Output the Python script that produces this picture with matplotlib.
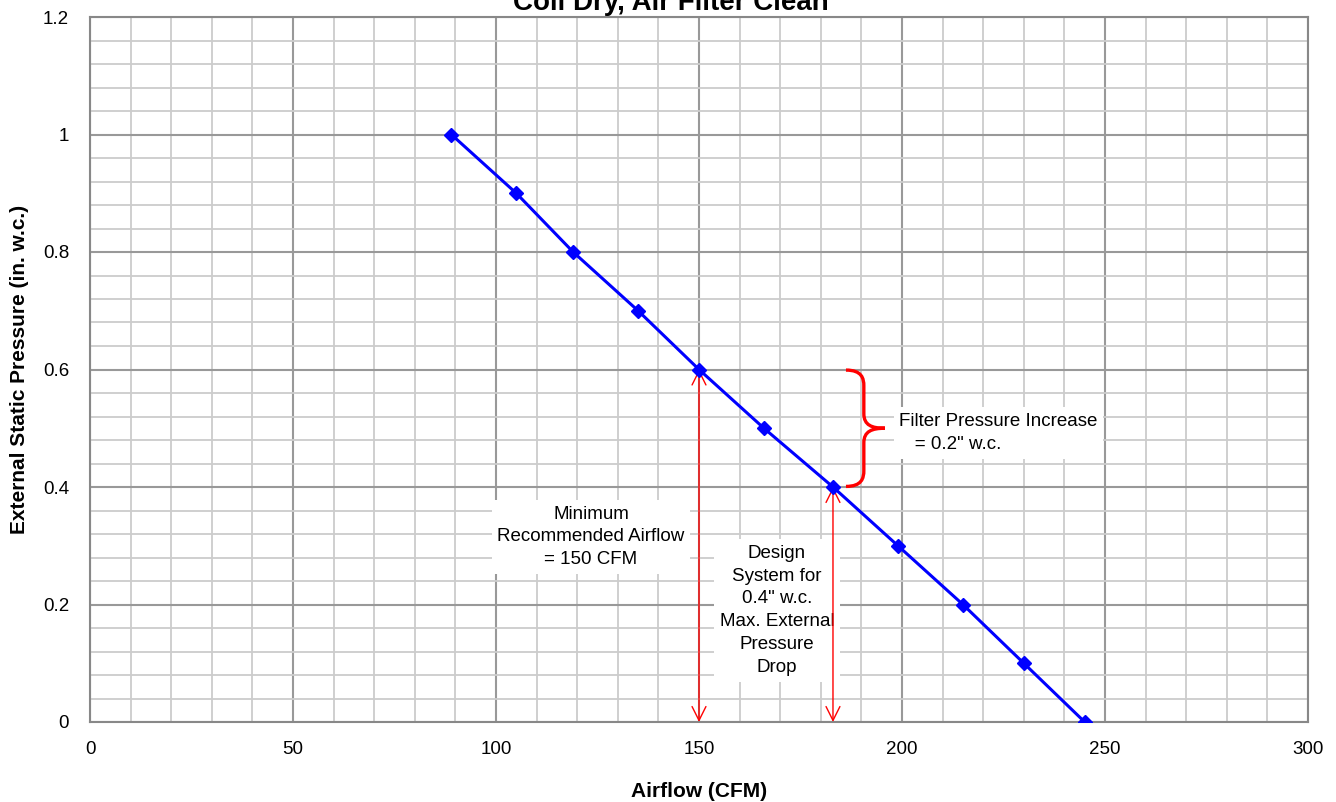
import numpy as np
import matplotlib.pyplot as plt
from matplotlib.path import Path
from matplotlib.patches import PathPatch

plt.rcParams['font.family'] = ['Liberation Sans', 'DejaVu Sans']

# fan curve
airflow = [89, 105, 119, 135, 150, 166, 183, 199, 215, 230, 245]
pressure = [1.0, 0.9, 0.8, 0.7, 0.6, 0.5, 0.4, 0.3, 0.2, 0.1, 0.0]

x_ticks = [0, 50, 100, 150, 200, 250, 300]
y_ticks = [0, 0.2, 0.4, 0.6, 0.8, 1.0, 1.2]
y_labels = ['0', '0.2', '0.4', '0.6', '0.8', '1', '1.2']

min_airflow = 150
design_airflow = 183
clean_pressure = 0.4
dirty_pressure = 0.6

fig = plt.figure(figsize=(13.36, 8.02), dpi=100)
ax = fig.add_axes([90 / 1336, 1 - 722 / 802, 1218 / 1336, 705 / 802])

ax.set_xlim(0, 300)
ax.set_ylim(0, 1.2)
ax.set_xticks(x_ticks)
ax.set_yticks(y_ticks)
ax.set_yticklabels(y_labels)
ax.set_xticks(np.arange(0, 301, 10), minor=True)
ax.set_yticks(np.arange(0, 1.21, 0.04), minor=True)
ax.grid(which='minor', color='#cccccc', linewidth=1.3, zorder=0)
ax.grid(which='major', color='#999999', linewidth=1.5, zorder=0)
ax.tick_params(which='both', length=0, labelsize=13.5)
ax.tick_params(axis='x', pad=14)
ax.tick_params(axis='y', pad=15)
for s in ax.spines.values():
    s.set_color('#888888')
    s.set_linewidth(1.5)
ax.set_axisbelow(True)

ax.set_xlabel('Airflow (CFM)', fontsize=15, fontweight='bold', va='top')
ax.xaxis.set_label_coords(0.5, -(782 - 722) / 705)
ax.set_ylabel('External Static Pressure (in. w.c.)', fontsize=15, fontweight='bold')
ax.yaxis.set_label_coords((29 - 90) / 1218, 0.5)
fig.text(671 / 1336, 1 - 10 / 802, 'Coil Dry, Air Filter Clean', ha='center', va='baseline',
         fontsize=20, fontweight='bold')

ax.plot(airflow, pressure, color='#0000ff', linewidth=2.2, marker='D', markersize=7, zorder=5)

# red double arrows
arr = dict(arrowstyle='<->,head_length=1.0,head_width=0.5', color='red', lw=1, shrinkA=0, shrinkB=0)
ax.annotate('', xy=(min_airflow, 0), xytext=(min_airflow, dirty_pressure), arrowprops=arr, zorder=4)
ax.annotate('', xy=(design_airflow, 0), xytext=(design_airflow, clean_pressure), arrowprops=arr, zorder=4)

# curly brace
x0, x1, x2 = 186.2, 190.6, 195.8
ym = (dirty_pressure + clean_pressure) / 2
verts = [(x0, 0.599), (x1 - 0.5, 0.599), (x1, 0.585), (x1, 0.572),
         (x1, 0.525),
         (x1, 0.505), (x1 + 2, ym), (x2, ym),
         (x1 + 2, ym), (x1, 0.495), (x1, 0.475),
         (x1, 0.428),
         (x1, 0.415), (x1 - 0.5, 0.401), (x0, 0.401)]
codes = [Path.MOVETO, Path.CURVE4, Path.CURVE4, Path.CURVE4,
         Path.LINETO,
         Path.CURVE4, Path.CURVE4, Path.CURVE4,
         Path.CURVE4, Path.CURVE4, Path.CURVE4,
         Path.LINETO,
         Path.CURVE4, Path.CURVE4, Path.CURVE4]
ax.add_patch(PathPatch(Path(verts, codes), fill=False, edgecolor='red', linewidth=2.4, zorder=4,
                       capstyle='butt'))

box = dict(facecolor='white', edgecolor='none', pad=4)
ax.text(123.4, 0.315, 'Minimum\nRecommended Airflow\n= 150 CFM', ha='center', va='center',
        fontsize=13.5, linespacing=1.45, bbox=box, zorder=3)
ax.text(169.2, 0.19, 'Design\nSystem for\n0.4" w.c.\nMax. External\nPressure\nDrop',
        ha='center', va='center', fontsize=13.5, linespacing=1.45, bbox=box, zorder=3)
ax.text(199.3, 0.492, 'Filter Pressure Increase\n   = 0.2" w.c.', ha='left', va='center',
        fontsize=13.5, linespacing=1.45, bbox=box, zorder=3)

fig.savefig('out.png', dpi=100)
